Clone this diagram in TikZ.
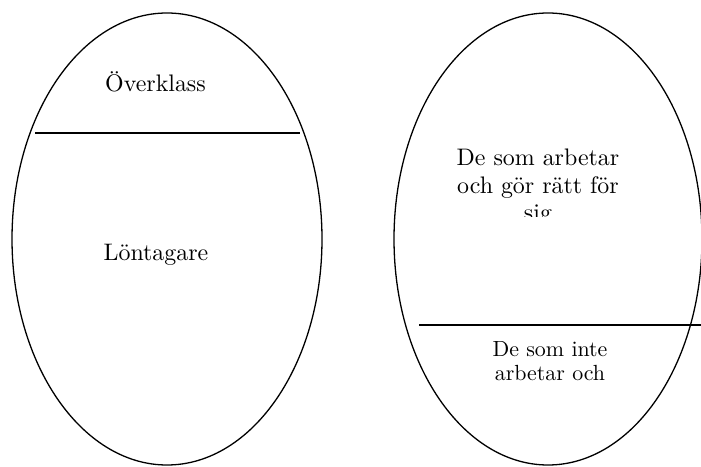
\documentclass[tikz,border=0pt]{standalone}
\usepackage{fontspec}
\setmainfont{lmroman10-regular.otf}
\begin{document}
\begin{tikzpicture}[x=1bp,y=-1bp,
  oval/.style={draw,line width=1.3bp},
  divider/.style={line width=2bp},
  lbl/.style={inner sep=0pt,font=\fontsize{24}{28}\selectfont,align=center},
  lblsmall/.style={inner sep=0pt,font=\fontsize{22}{24}\selectfont,align=center}]
\useasboundingbox (0,0) rectangle (701,467);
\clip (0,0) rectangle (701,467);
% left ellipse
\draw[oval] (167,239) ellipse [x radius=155, y radius=226];
\draw[divider] (35,133) -- (300,133);
\node[lbl,anchor=base] (ov) at (155.5,92) {Överklass};
\node[lbl,anchor=base] (lo) at (156,261) {Löntagare};
% right ellipse
\draw[oval] (548,239) ellipse [x radius=154, y radius=226];
\draw[divider] (419,325) -- (701,325);
\begin{scope}
\clip (420,130) rectangle (660,217);
\node[lbl,anchor=base] (ar) at (538,221) {De som arbetar\\och gör rätt för\\sig};
\end{scope}
\node[lblsmall,anchor=base] (ia) at (550,380) {De som inte\\arbetar och};
\end{tikzpicture}
\end{document}
